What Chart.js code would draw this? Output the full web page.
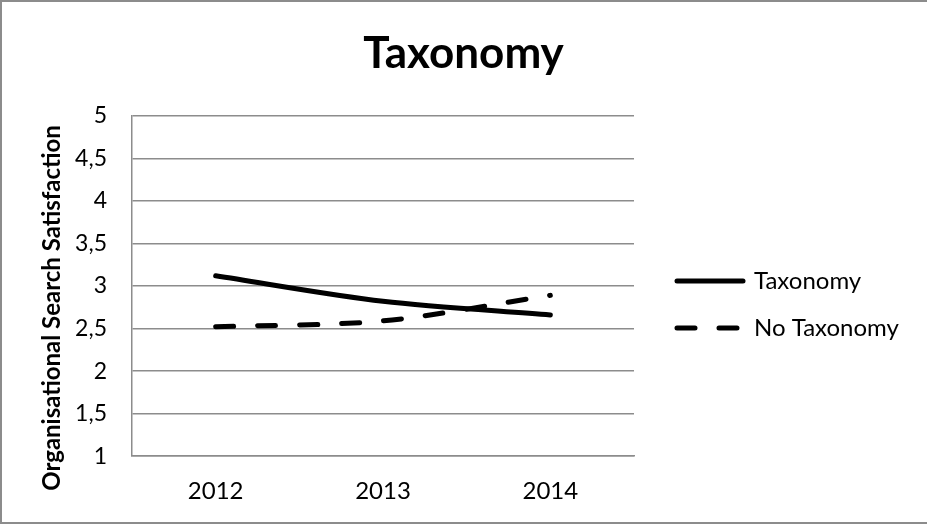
<!DOCTYPE html>
<html>
<head>
    <script src="https://cdn.jsdelivr.net/npm/chart.js@4/dist/chart.umd.min.js"></script>
    <style>
        body { margin: 0; overflow: hidden; background: #fff; }
        .frame {
            position: absolute; left: 0; top: 0;
            width: 940px; height: 520px;
            border: 2px solid #8c8c8c;
            pointer-events: none;
        }
        canvas { position: absolute; left: 0; top: 0; }
    </style>
</head>
<body>
    <canvas id="chart" width="927" height="524"></canvas>
    <div class="frame"></div>
    <script>
        const years = ['2012', '2013', '2014'];
        const taxonomy = [3.12, 2.82, 2.66];
        const noTaxonomy = [2.52, 2.59, 2.89];
        const seriesNames = ['Taxonomy', 'No Taxonomy'];
        const yTitle = 'Organisational Search Satisfaction';

        const FONT = 'Lato, "Open Sans", sans-serif';
        const GRID = '#8c8c8c';

        // legend + axis title drawn by hand so they sit where Excel puts them
        const extras = {
            id: 'extras',
            afterDraw(chart) {
                const ctx = chart.ctx;
                const area = chart.chartArea;
                const mid = (area.top + area.bottom) / 2;

                const x0 = area.right + 41;
                const gap = 47;
                chart.data.datasets.forEach(function (ds, i) {
                    const y = mid - 5 + i * gap;
                    ctx.save();
                    ctx.strokeStyle = ds.borderColor;
                    ctx.lineWidth = ds.borderWidth;
                    ctx.lineCap = 'round';
                    ctx.setLineDash(ds.borderDash || []);
                    ctx.beginPath();
                    ctx.moveTo(x0 + 2, y);
                    ctx.lineTo(x0 + 68, y);
                    ctx.stroke();
                    ctx.setLineDash([]);
                    ctx.fillStyle = '#000';
                    ctx.font = '24px ' + FONT;
                    ctx.textBaseline = 'middle';
                    ctx.fillText(ds.label, x0 + 79, y);
                    ctx.restore();
                });

                ctx.save();
                ctx.translate(52, mid + 22);
                ctx.rotate(-Math.PI / 2);
                ctx.fillStyle = '#000';
                ctx.font = 'bold 24px ' + FONT;
                ctx.textAlign = 'center';
                ctx.textBaseline = 'middle';
                ctx.fillText(yTitle, 0, 0);
                ctx.restore();
            }
        };

        new Chart(document.getElementById('chart').getContext('2d'), {
            type: 'line',
            data: {
                labels: years,
                datasets: [
                    {
                        label: seriesNames[0],
                        data: taxonomy,
                        borderColor: '#000',
                        borderWidth: 5,
                        borderCapStyle: 'round',
                        tension: 0.3,
                        pointRadius: 0,
                        fill: false
                    },
                    {
                        label: seriesNames[1],
                        data: noTaxonomy,
                        borderColor: '#000',
                        borderWidth: 5,
                        borderCapStyle: 'round',
                        borderDash: [18, 24],
                        tension: 0.3,
                        pointRadius: 0,
                        fill: false
                    }
                ]
            },
            plugins: [extras],
            options: {
                responsive: false,
                animation: false,
                layout: {
                    padding: { left: 0, right: 0, top: 0, bottom: 5 }
                },
                plugins: {
                    legend: { display: false },
                    tooltip: { enabled: false },
                    title: {
                        display: true,
                        text: 'Taxonomy',
                        color: '#000',
                        font: { family: FONT, size: 44, weight: 'bold' },
                        padding: { top: 27, bottom: 36 }
                    }
                },
                scales: {
                    x: {
                        offset: true,
                        grid: { display: false },
                        border: { display: true, color: GRID, width: 1.5 },
                        ticks: {
                            color: '#000',
                            padding: 13,
                            font: { family: FONT, size: 24 }
                        }
                    },
                    y: {
                        min: 1,
                        max: 5,
                        afterFit: function (scale) { scale.width = 132; },
                        grid: { color: GRID, lineWidth: 1.5, drawTicks: false },
                        border: { display: true, color: GRID, width: 1.5 },
                        ticks: {
                            stepSize: 0.5,
                            color: '#000',
                            padding: 25,
                            font: { family: FONT, size: 23 },
                            callback: function (v) { return String(v).replace('.', ','); }
                        }
                    },
                    // empty right axis, only keeps room for the legend
                    side: {
                        type: 'linear',
                        position: 'right',
                        afterFit: function (scale) { scale.width = 293; },
                        grid: { display: false },
                        border: { display: false },
                        ticks: { display: false }
                    }
                }
            }
        });
    </script>
</body>
</html>
